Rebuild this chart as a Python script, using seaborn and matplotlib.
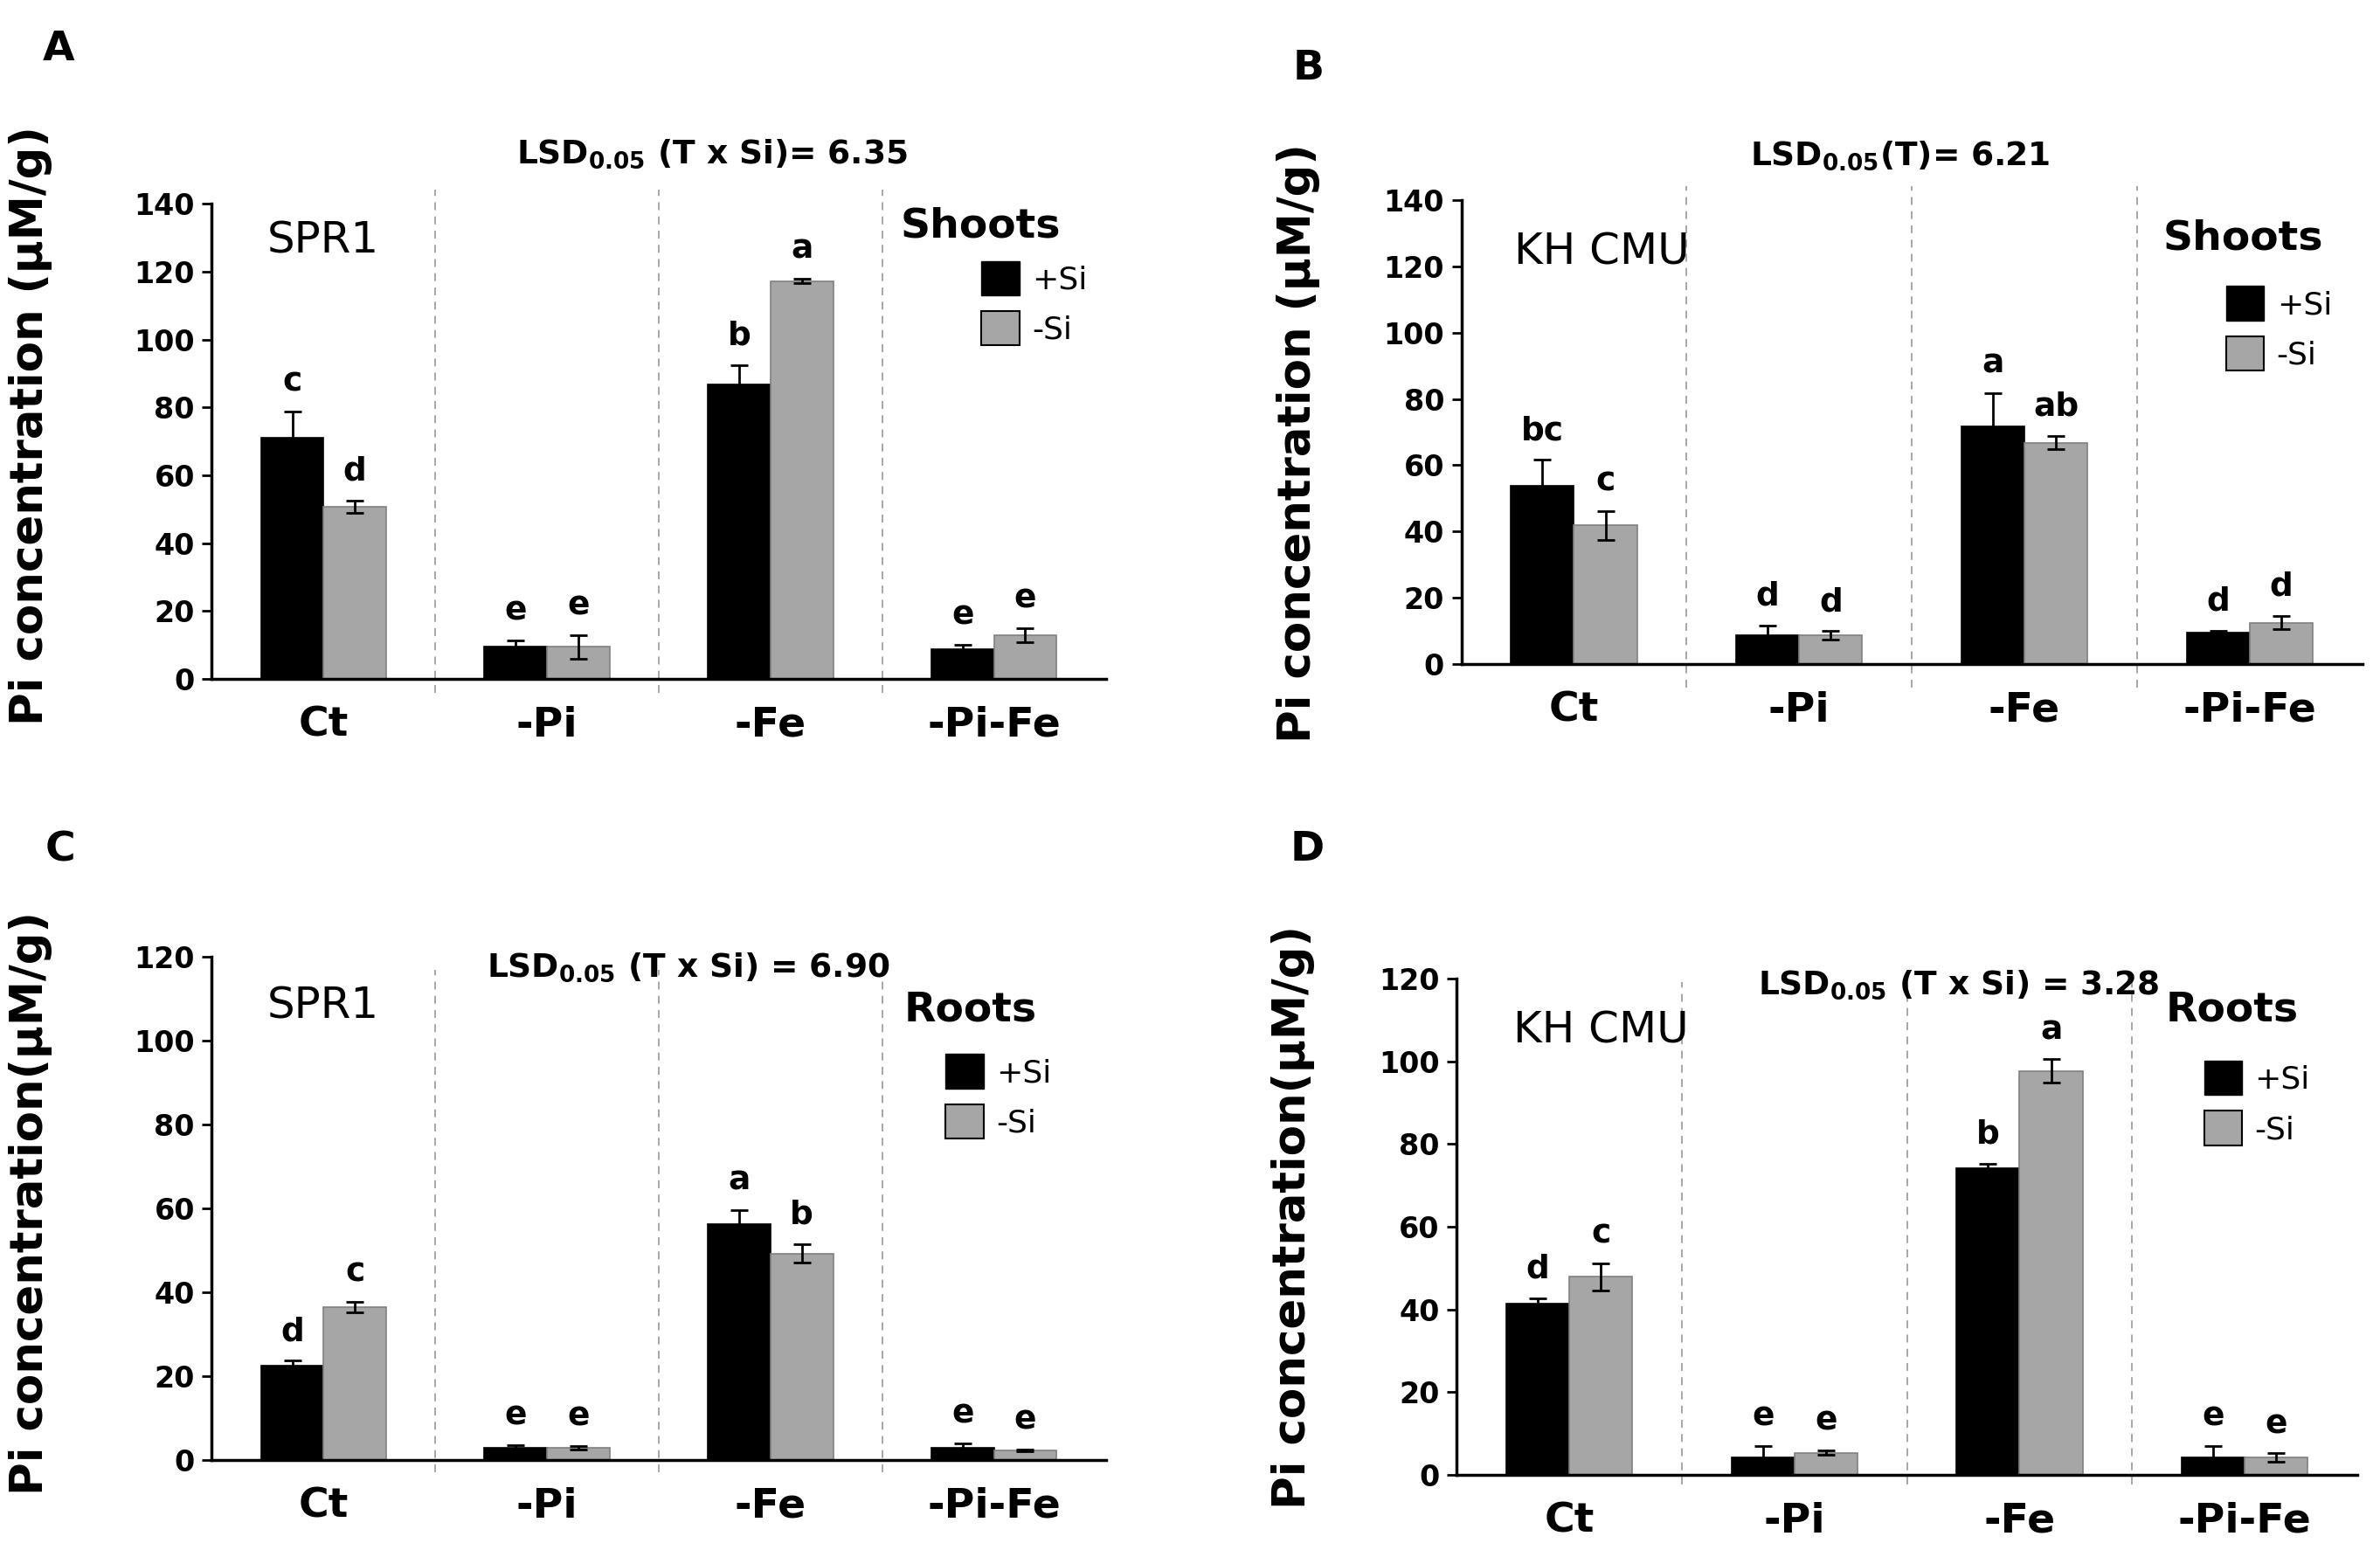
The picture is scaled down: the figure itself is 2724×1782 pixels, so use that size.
import matplotlib
matplotlib.use('Agg')
import matplotlib.pyplot as plt
from matplotlib.patches import Patch
import seaborn as sns
import pandas as pd

# categories
treatments = ['Ct', '-Pi', '-Fe', '-Pi-Fe']
si_levels = ['+Si', '-Si']

# A - SPR1 shoots
a_plus = [71.0, 9.5, 86.7, 8.8]
a_plus_err = [7.8, 1.9, 5.7, 1.3]
a_minus = [50.7, 9.4, 117.3, 12.9]
a_minus_err = [1.8, 3.5, 0.6, 2.0]
a_let_plus = ['c', 'e', 'b', 'e']
a_let_minus = ['d', 'e', 'a', 'e']

# B - KH CMU shoots
b_plus = [53.7, 8.7, 71.8, 9.6]
b_plus_err = [7.9, 3.0, 10.0, 0.5]
b_minus = [41.8, 8.7, 66.8, 12.5]
b_minus_err = [4.3, 1.2, 2.0, 2.0]
b_let_plus = ['bc', 'd', 'a', 'd']
b_let_minus = ['c', 'd', 'ab', 'd']

# C - SPR1 roots
c_plus = [22.6, 3.0, 56.3, 3.0]
c_plus_err = [1.1, 0.5, 3.3, 1.0]
c_minus = [36.5, 2.9, 49.3, 2.3]
c_minus_err = [1.2, 0.5, 2.2, 0.3]
c_let_plus = ['d', 'e', 'a', 'e']
c_let_minus = ['c', 'e', 'b', 'e']

# D - KH CMU roots
d_plus = [41.4, 4.2, 74.2, 4.2]
d_plus_err = [1.4, 2.8, 1.1, 2.8]
d_minus = [47.9, 5.4, 97.7, 4.2]
d_minus_err = [3.2, 0.6, 2.8, 1.0]
d_let_plus = ['d', 'e', 'b', 'e']
d_let_minus = ['c', 'e', 'a', 'e']

ylabel_shoot = 'Pi concentration (\u00b5M/g)'
ylabel_root = 'Pi concentration(\u00b5M/g)'

panels = [
    dict(tag='A', cultivar='SPR1', organ='Shoots', ymax=140, ylabel=ylabel_shoot,
         lsd=r'LSD$_{\mathbf{0.05}}$ (T x Si)= 6.35',
         plus=a_plus, plus_err=a_plus_err, minus=a_minus, minus_err=a_minus_err,
         lp=a_let_plus, lm=a_let_minus,
         rect=[0.089, 0.564, 0.3756, 0.305], lsd_xy=(0.559, 1.086), cult_xy=(0.062, 0.897),
         organ_xy=(0.770, 0.930), leg_xy=(0.861, 0.880), ylab_xy=(-0.178, 0.533),
         tag_xy=(0.018, 0.961), vl=(-0.03, 1.03)),
    dict(tag='B', cultivar='KH CMU', organ='Shoots', ymax=140, ylabel=ylabel_shoot,
         lsd=r'LSD$_{\mathbf{0.05}}$(T)= 6.21',
         plus=b_plus, plus_err=b_plus_err, minus=b_minus, minus_err=b_minus_err,
         lp=b_let_plus, lm=b_let_minus,
         rect=[0.614, 0.5735, 0.3785, 0.298], lsd_xy=(0.487, 1.075), cult_xy=(0.059, 0.861),
         organ_xy=(0.779, 0.893), leg_xy=(0.849, 0.815), ylab_xy=(-0.157, 0.477),
         tag_xy=(0.543, 0.949), vl=(-0.05, 1.03)),
    dict(tag='C', cultivar='SPR1', organ='Roots', ymax=120, ylabel=ylabel_root,
         lsd=r'LSD$_{\mathbf{0.05}}$ (T x Si) = 6.90',
         plus=c_plus, plus_err=c_plus_err, minus=c_minus, minus_err=c_minus_err,
         lp=c_let_plus, lm=c_let_minus,
         rect=[0.089, 0.0623, 0.3756, 0.323], lsd_xy=(0.533, 0.962), cult_xy=(0.062, 0.878),
         organ_xy=(0.774, 0.873), leg_xy=(0.821, 0.807), ylab_xy=(-0.178, 0.51),
         tag_xy=(0.019, 0.447), vl=(-0.025, 0.975)),
    dict(tag='D', cultivar='KH CMU', organ='Roots', ymax=120, ylabel=ylabel_root,
         lsd=r'LSD$_{\mathbf{0.05}}$ (T x Si) = 3.28',
         plus=d_plus, plus_err=d_plus_err, minus=d_minus, minus_err=d_minus_err,
         lp=d_let_plus, lm=d_let_minus,
         rect=[0.612, 0.0527, 0.3785, 0.3187], lsd_xy=(0.557, 0.970), cult_xy=(0.063, 0.870),
         organ_xy=(0.787, 0.915), leg_xy=(0.830, 0.835), ylab_xy=(-0.157, 0.52),
         tag_xy=(0.542, 0.447), vl=(-0.02, 0.993)),
]

sns.set_style('ticks')
plt.rcParams['font.family'] = ['DejaVu Sans']
plt.rcParams['mathtext.fontset'] = 'dejavusans'
# plain black text like the original figure
for key in ['text.color', 'axes.labelcolor', 'xtick.color', 'ytick.color']:
    plt.rcParams[key] = 'black'

black = '#000000'
grey = '#a6a6a6'

fig = plt.figure(figsize=(27.24, 17.82), dpi=100)

for p in panels:
    ax = fig.add_axes(p['rect'])

    # long table for seaborn
    df = pd.DataFrame({
        'treatment': treatments * 2,
        'Si': [si_levels[0]] * 4 + [si_levels[1]] * 4,
        'value': p['plus'] + p['minus'],
    })
    sns.barplot(data=df, x='treatment', y='value', hue='Si', order=treatments,
                hue_order=si_levels, palette=[black, grey], width=0.56,
                errorbar=None, legend=False, saturation=1, ax=ax)

    errs = [p['plus_err'], p['minus_err']]
    vals = [p['plus'], p['minus']]
    lets = [p['lp'], p['lm']]
    bar_conts = list(ax.containers)
    for k, cont in enumerate(bar_conts):
        for j, bar in enumerate(cont):
            bar.set_edgecolor(black if k == 0 else '#808080')
            bar.set_linewidth(1.2)
            xc = bar.get_x() + bar.get_width() / 2
            ax.errorbar(xc, vals[k][j], yerr=errs[k][j], fmt='none', ecolor='black',
                        elinewidth=2, capsize=7, capthick=2, zorder=5)
            ax.annotate(lets[k][j], (xc, vals[k][j] + errs[k][j]), xytext=(0, 11),
                        textcoords='offset points', ha='center', va='bottom',
                        fontsize=27, fontweight='bold')

    # dashed separators between treatments
    for xv in [0.5, 1.5, 2.5]:
        ax.axvline(xv, ymin=p['vl'][0], ymax=p['vl'][1], color='#a0a0a0',
                   linestyle=(0, (5, 4)), linewidth=1.3, clip_on=False)

    ax.set_xlim(-0.5, 3.5)
    ax.set_ylim(0, p['ymax'])
    ax.set_yticks(range(0, p['ymax'] + 1, 20))
    ax.set_xlabel('')
    ax.set_ylabel(p['ylabel'], fontsize=37, fontweight='bold')
    ax.yaxis.set_label_coords(*p['ylab_xy'])

    for t in ax.get_yticklabels():
        t.set_fontweight('bold')
    for t in ax.get_xticklabels():
        t.set_fontweight('bold')
    ax.tick_params(axis='y', labelsize=24, length=8, width=2, direction='out', pad=6)
    ax.tick_params(axis='x', labelsize=34, length=0, pad=22)

    sns.despine(ax=ax)
    for s in ['left', 'bottom']:
        ax.spines[s].set_linewidth(2.5)
        ax.spines[s].set_color('black')

    ax.text(*p['lsd_xy'], p['lsd'], transform=ax.transAxes, ha='center', va='baseline',
            fontsize=27, fontweight='bold')
    ax.text(*p['cult_xy'], p['cultivar'], transform=ax.transAxes, ha='left', va='baseline',
            fontsize=36)
    ax.text(*p['organ_xy'], p['organ'], transform=ax.transAxes, ha='left', va='baseline',
            fontsize=34, fontweight='bold')

    handles = [Patch(facecolor=black, edgecolor=black, label=si_levels[0]),
               Patch(facecolor=grey, edgecolor=black, linewidth=1.5, label=si_levels[1])]
    ax.legend(handles=handles, loc='upper left', bbox_to_anchor=p['leg_xy'],
              frameon=False, fontsize=26, borderpad=0, borderaxespad=0,
              handlelength=1.2, handleheight=1.3, handletextpad=0.4, labelspacing=0.5)

    fig.text(*p['tag_xy'], p['tag'], fontsize=34, fontweight='bold', va='baseline')

fig.savefig('out.png', dpi=100)
